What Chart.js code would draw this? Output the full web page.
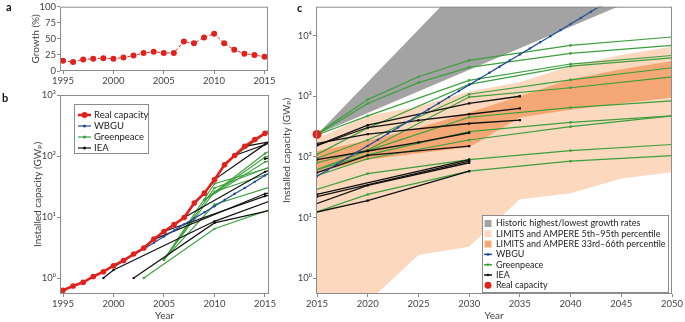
<!DOCTYPE html>
<html>
<head>
<meta charset="utf-8">
<script src="https://cdn.jsdelivr.net/npm/chart.js@4.4.1/dist/chart.umd.min.js"></script>
<style>
  body { margin: 0; width: 685px; height: 322px; position: relative; background: #fff; overflow: hidden; }
  canvas { position: absolute; }
  .panel { position: absolute; font: bold 11px Lato, "DejaVu Sans", sans-serif; color: #111; }
</style>
</head>
<body>
<canvas id="chartA" width="278" height="92" style="left:0;top:0"></canvas>
<canvas id="chartB" width="278" height="234" style="left:0;top:88px"></canvas>
<canvas id="chartC" width="409" height="322" style="left:276px;top:0"></canvas>
<div class="panel" style="left:6px;top:0px">a</div>
<div class="panel" style="left:2px;top:91px">b</div>
<div class="panel" style="left:297px;top:1px">c</div>
<script>
// Values
const years = [1995, 1996, 1997, 1998, 1999, 2000, 2001, 2002, 2003, 2004, 2005,
               2006, 2007, 2008, 2009, 2010, 2011, 2012, 2013, 2014, 2015];
const growthPercent = [16, 14, 18, 19, 20, 19, 21, 24, 28, 30, 28, 28, 46, 43, 52, 58, 43, 33, 27, 25, 22];
const realCapacity = [0.63, 0.74, 0.85, 1.06, 1.27, 1.59, 1.94, 2.47, 3.1, 4.35, 5.8,
                      7.5, 9.8, 17, 24.6, 41, 72, 102, 144, 186, 235];

const wbguYears = [2000, 2001, 2002, 2003, 2004, 2005, 2006, 2007, 2008, 2009, 2010,
                   2011, 2012, 2013, 2014, 2015, 2016, 2017, 2018, 2019, 2020, 2021,
                   2022, 2023, 2024, 2025, 2026, 2027, 2028, 2029, 2030, 2031, 2032,
                   2033, 2034, 2035, 2036, 2037, 2038, 2039, 2040, 2041, 2042, 2043];
const wbguValues = [1.5, 1.9, 2.4, 3.0, 3.8, 4.8, 6.0, 7.6, 9.5, 12, 15,
                    19, 24, 30, 38, 48, 60, 76, 96, 121, 152, 192,
                    242, 305, 384, 484, 610, 768, 968, 1220, 1540, 1940, 2440,
                    3080, 3880, 4890, 6160, 7760, 9780, 12300, 15500, 19600, 24700, 31100];

const greenpeaceYears = [
  [2012, 2015, 2020, 2025, 2030, 2040, 2050],
  [2012, 2015, 2020, 2025, 2030, 2040, 2050],
  [2012, 2015, 2020, 2030, 2040, 2050],
  [2009, 2015, 2020, 2030, 2040, 2050],
  [2009, 2015, 2020, 2030, 2040, 2050],
  [2009, 2015, 2020, 2030, 2040, 2050],
  [2005, 2010, 2020, 2030, 2040, 2050],
  [2005, 2010, 2020, 2030, 2040, 2050],
  [2005, 2010, 2020, 2030, 2040, 2050],
  [2005, 2010, 2020, 2030, 2040, 2050],
  [2003, 2010, 2020, 2030, 2040, 2050]
];
const greenpeaceValues = [
  [102, 240, 880, 2100, 3900, 6900, 9500],
  [102, 235, 760, 1680, 3000, 5100, 6900],
  [102, 230, 475, 1830, 3400, 4700],
  [19, 110, 300, 1570, 3130, 4300],
  [19, 95, 190, 1080, 1860, 2950],
  [19, 80, 130, 970, 1380, 2090],
  [2.0, 30, 127, 450, 650, 840],
  [2.0, 35, 108, 260, 370, 475],
  [2.0, 26, 93, 190, 315, 475],
  [2.0, 16, 53, 90, 127, 160],
  [1.0, 6.4, 24, 58, 85, 105]
];

const ieaYears = [
  [1999, 2000, 2010, 2020, 2030],
  [2002, 2010, 2020, 2030],
  [2004, 2015, 2030],
  [2005, 2015, 2030],
  [2007, 2015, 2020, 2030],
  [2010, 2015, 2020, 2030, 2035],
  [2012, 2020, 2025, 2030, 2035],
  [2013, 2020, 2030, 2035],
  [2015, 2020, 2025, 2030]
];
const ieaValues = [
  [1.0, 1.35, 8.5, 34, 80],
  [1.0, 8, 19, 58],
  [4.3, 24, 90],
  [5.8, 22, 85],
  [9.8, 55, 106, 150],
  [41, 155, 334, 760, 1000],
  [102, 305, 400, 505, 630],
  [144, 238, 355, 405],
  [90, 125, 173, 250]
];

// scenario ranges (panel c)
const bandYears = [2015, 2020, 2025, 2030, 2035, 2040, 2045, 2050];
const wideUpper = [200, 475, 680, 1200, 1700, 3150, 4800, 6600];
const wideLower = [0.1, 0.4, 2.4, 3.3, 20, 25, 44, 56];
const midUpper = [125, 185, 300, 540, 1000, 1900, 2800, 3800];
const midLower = [55, 90, 115, 144, 445, 600, 760, 950];
const historicYears = [2015, 2050];
const historicHighest = [235, 2.6e8];
const historicLowest = [235, 72000];

const yearTicksAB = [1995, 2000, 2005, 2010, 2015];
const yearTicksC = [2015, 2020, 2025, 2030, 2035, 2040, 2045, 2050];
const growthTicks = [0, 25, 50, 75, 100];
const logTicksB = [1, 10, 100, 1000];
const logTicksC = [1, 10, 100, 1000, 10000];

const legendBLabels = ['Real capacity', 'WBGU', 'Greenpeace', 'IEA'];
const legendCLabels = ['Historic highest/lowest growth rates', 'LIMITS and AMPERE 5th\u201395th percentile',
                       'LIMITS and AMPERE 33rd\u201366th percentile', 'WBGU', 'Greenpeace', 'IEA', 'Real capacity'];

// colours
const RED = '#e3211c', BLUE = '#1f4a96', GREEN = '#3c9f3c', BLACK = '#111111';
const GRAY = '#a3a3a3', LIGHT = '#fcd8bf', DARK = '#f5a875';

Chart.defaults.font.family = 'Lato, "DejaVu Sans", sans-serif';
Chart.defaults.font.size = 9.5;
Chart.defaults.color = '#444';
Chart.defaults.animation = false;
Chart.defaults.events = [];
Chart.defaults.plugins.legend.display = false;
Chart.defaults.plugins.tooltip.enabled = false;

const xy = (xs, ys) => xs.map((x, i) => ({ x: x, y: ys[i] }));
const sup = { '-': '\u207b', '0': '\u2070', '1': '\u00b9', '2': '\u00b2', '3': '\u00b3', '4': '\u2074' };
const powerLabel = v => '10' + String(Math.round(Math.log10(v))).split('').map(c => sup[c]).join('');

// box around the plot area, like the matplotlib spines
const frame = {
  id: 'frame',
  afterDatasetsDraw(chart) {
    const { ctx, chartArea: a } = chart;
    ctx.save();
    ctx.strokeStyle = '#8c8c8c';
    ctx.lineWidth = 1;
    ctx.strokeRect(a.left + 0.5, a.top + 0.5, a.right - a.left - 1, a.bottom - a.top - 1);
    ctx.restore();
  }
};

// legend drawn in a box inside the plot
const boxLegend = {
  id: 'boxLegend',
  afterDraw(chart, args, o) {
    if (!o.labels) return;
    const ctx = chart.ctx;
    ctx.save();
    ctx.fillStyle = '#fff';
    ctx.fillRect(o.box[0], o.box[1], o.box[2], o.box[3]);
    ctx.strokeStyle = '#8c8c8c';
    ctx.lineWidth = 1;
    ctx.strokeRect(o.box[0] + 0.5, o.box[1] + 0.5, o.box[2], o.box[3]);
    ctx.font = o.fontSize + 'px Lato, "DejaVu Sans", sans-serif';
    ctx.textBaseline = 'middle';
    o.labels.forEach((label, i) => {
      const y = o.firstRow + i * o.step;
      const s = o.symbols[i];
      if (s.square) {
        ctx.fillStyle = s.color;
        ctx.fillRect(o.symbolX - 3.5, y - 3.5, 7, 7);
      } else {
        if (s.half) {
          ctx.strokeStyle = s.color;
          ctx.lineWidth = s.width;
          ctx.beginPath();
          ctx.moveTo(o.symbolX - s.half, y);
          ctx.lineTo(o.symbolX + s.half, y);
          ctx.stroke();
        }
        ctx.fillStyle = s.color;
        ctx.beginPath();
        ctx.arc(o.symbolX, y, s.r, 0, Math.PI * 2);
        ctx.fill();
      }
      ctx.fillStyle = '#222';
      ctx.fillText(label, o.textX, y);
    });
    ctx.restore();
  }
};

function axis(extra) {
  return Object.assign({
    grid: { display: true, drawOnChartArea: false, drawTicks: true, tickLength: 3, color: '#8c8c8c' },
    border: { display: false }
  }, extra);
}

function lineSet(data, color, width, radius, style) {
  return {
    data: data, borderColor: color, backgroundColor: color, borderWidth: width,
    pointRadius: radius, pointBorderWidth: 0, pointStyle: style || 'circle',
    tension: 0, fill: false
  };
}

// ---------- panel a ----------
new Chart(document.getElementById('chartA'), {
  type: 'line',
  data: {
    datasets: [Object.assign(lineSet(xy(years, growthPercent), RED, 1, 3), { borderDash: [3, 2] })]
  },
  options: {
    responsive: false,
    layout: { padding: { left: 26, top: 5, right: 10, bottom: 0 } },
    scales: {
      x: axis({
        type: 'linear', min: 1994.7, max: 2015.35,
        afterBuildTicks: s => { s.ticks = yearTicksAB.map(v => ({ value: v })); },
        afterFit: s => { s.height = 21; },
        ticks: { padding: 1, callback: v => String(v), maxRotation: 0 }
      }),
      y: axis({
        type: 'linear', min: 0, max: 100,
        afterBuildTicks: s => { s.ticks = growthTicks.map(v => ({ value: v })); },
        afterFit: s => { s.width = 34; },
        ticks: { padding: 1 },
        title: { display: true, text: 'Growth (%)', font: { size: 10 }, padding: { top: 4, bottom: 0 } }
      })
    }
  },
  plugins: [frame]
});

// ---------- panel b ----------
const datasetsB = [lineSet(xy(years, realCapacity), RED, 2.6, 2.8)];
datasetsB.push(lineSet(xy(wbguYears, wbguValues), BLUE, 1.2, 1.2));
ieaYears.forEach((ys, i) => datasetsB.push(lineSet(xy(ys, ieaValues[i]), BLACK, 1.2, 1.5, 'rect')));
greenpeaceYears.forEach((ys, i) => datasetsB.push(lineSet(xy(ys, greenpeaceValues[i]), GREEN, 1.1, 1.2)));

new Chart(document.getElementById('chartB'), {
  type: 'line',
  data: { datasets: datasetsB },
  options: {
    responsive: false,
    layout: { padding: { left: 28, top: 7, right: 9, bottom: 0 } },
    scales: {
      x: axis({
        type: 'linear', min: 1994.7, max: 2015.4,
        afterBuildTicks: s => { s.ticks = yearTicksAB.map(v => ({ value: v })); },
        afterFit: s => { s.height = 28; },
        ticks: { padding: 1, callback: v => String(v), maxRotation: 0 },
        title: { display: true, text: 'Year', font: { size: 10 }, padding: { top: 0, bottom: 0 } }
      }),
      y: axis({
        type: 'logarithmic', min: 0.547, max: 1000,
        afterBuildTicks: s => { s.ticks = logTicksB.map(v => ({ value: v })); },
        afterFit: s => { s.width = 32; },
        ticks: { padding: 1, callback: v => powerLabel(v) },
        title: { display: true, text: 'Installed capacity (GW\u209a)', font: { size: 10 }, padding: { top: 4, bottom: 0 } }
      })
    },
    plugins: {
      boxLegend: {
        box: [74, 16, 74, 49], firstRow: 27, step: 11, symbolX: 84.5, textX: 94, fontSize: 9.5,
        labels: legendBLabels,
        symbols: [
          { color: RED, width: 2.6, half: 6.5, r: 3 },
          { color: BLUE, width: 1.2, half: 6.5, r: 1.5 },
          { color: GREEN, width: 1.2, half: 6.5, r: 1.5 },
          { color: BLACK, width: 1.2, half: 6.5, r: 1.5 }
        ]
      }
    }
  },
  plugins: [frame, boxLegend]
});

// ---------- panel c ----------
const datasetsC = [Object.assign(lineSet([{ x: 2015, y: realCapacity[realCapacity.length - 1] }], RED, 0, 4.5),
                                 { showLine: false, clip: false })];
datasetsC.push(lineSet(xy(wbguYears, wbguValues), BLUE, 1.2, 1.2));
ieaYears.forEach((ys, i) => datasetsC.push(lineSet(xy(ys, ieaValues[i]), BLACK, 1.3, 1.6, 'rect')));
greenpeaceYears.forEach((ys, i) => datasetsC.push(lineSet(xy(ys, greenpeaceValues[i]), GREEN, 1.2, 1.3)));

function band(upperX, upper, lowerX, lower, color) {
  const target = datasetsC.length + 1;
  datasetsC.push({ data: xy(upperX, upper), borderColor: 'rgba(0,0,0,0)', backgroundColor: color,
                   pointRadius: 0, tension: 0, fill: target });
  datasetsC.push({ data: xy(lowerX, lower), borderColor: 'rgba(0,0,0,0)', backgroundColor: color,
                   pointRadius: 0, tension: 0, fill: false });
}
band(historicYears, historicHighest, historicYears, historicLowest, GRAY);
band(bandYears, midUpper, bandYears, midLower, DARK);
band(bandYears, wideUpper, bandYears, wideLower, LIGHT);

new Chart(document.getElementById('chartC'), {
  type: 'line',
  data: { datasets: datasetsC },
  options: {
    responsive: false,
    layout: { padding: { left: 1, top: 5, right: 13, bottom: 0 } },
    scales: {
      x: axis({
        type: 'linear', min: 2014.9, max: 2050,
        afterBuildTicks: s => { s.ticks = yearTicksC.map(v => ({ value: v })); },
        afterFit: s => { s.height = 28; },
        ticks: { padding: 1, callback: v => String(v), maxRotation: 0 },
        title: { display: true, text: 'Year', font: { size: 10 }, padding: { top: 0, bottom: 0 } }
      }),
      y: axis({
        type: 'logarithmic', min: 0.547, max: 30000,
        afterBuildTicks: s => { s.ticks = logTicksC.map(v => ({ value: v })); },
        afterFit: s => { s.width = 39; },
        ticks: { padding: 1, callback: v => powerLabel(v) },
        title: { display: true, text: 'Installed capacity (GW\u209a)', font: { size: 10 }, padding: { top: 4, bottom: 0 } }
      })
    },
    plugins: {
      boxLegend: {
        box: [206, 215, 186, 77], firstRow: 223.5, step: 10.3, symbolX: 212, textX: 220, fontSize: 9,
        labels: legendCLabels,
        symbols: [
          { square: true, color: GRAY },
          { square: true, color: LIGHT },
          { square: true, color: DARK },
          { color: BLUE, width: 1.5, half: 4, r: 1.3 },
          { color: GREEN, width: 1.5, half: 4, r: 1.3 },
          { color: BLACK, width: 1.5, half: 4, r: 1.3 },
          { color: RED, r: 3.5 }
        ]
      }
    }
  },
  plugins: [frame, boxLegend]
});
</script>
</body>
</html>
